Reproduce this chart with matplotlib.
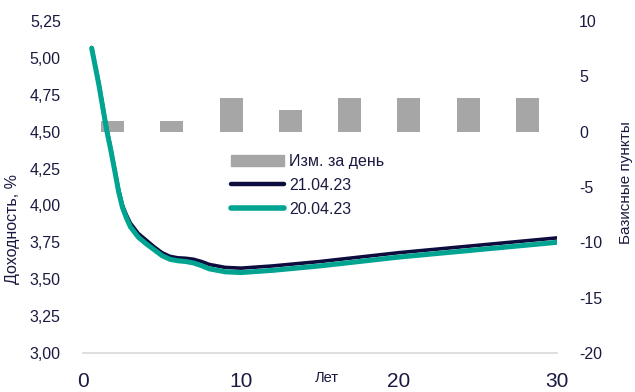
import matplotlib
matplotlib.use('Agg')
import matplotlib.pyplot as plt
from matplotlib.patches import Patch
from matplotlib.lines import Line2D

# ---- data ----
tenors = [0.55, 1.0, 1.5, 1.75, 2.0, 2.25, 2.5, 2.75, 3.0, 3.5, 4.0, 4.5, 5.0, 5.5, 6.0, 6.5, 7.0, 7.5, 8.0, 9.0, 10.0, 12.0, 15.0, 20.0, 25.0, 30.0]
yield_2104 = [5.07, 4.83, 4.52, 4.39, 4.25, 4.11, 4.00, 3.935, 3.88, 3.81, 3.765, 3.72, 3.68, 3.655, 3.645, 3.642, 3.635, 3.62, 3.60, 3.58, 3.575, 3.59, 3.62, 3.68, 3.73, 3.78]
yield_2004 = [5.065, 4.82, 4.51, 4.38, 4.24, 4.095, 3.985, 3.915, 3.855, 3.785, 3.74, 3.70, 3.66, 3.635, 3.625, 3.62, 3.61, 3.592, 3.57, 3.55, 3.545, 3.56, 3.59, 3.65, 3.70, 3.75]
bar_cats = ['1', '2', '3', '5', '7', '10', '15', '20']
bar_change = [1, 1, 3, 2, 3, 3, 3, 3]
left_ticks = [3.00, 3.25, 3.50, 3.75, 4.00, 4.25, 4.50, 4.75, 5.00, 5.25]
right_ticks = [-20, -15, -10, -5, 0, 5, 10]
x_ticks = [0, 10, 20, 30]

NAVY = '#0c0c3e'
TEAL = '#00a490'
GREY = '#a6a6a6'
TXT = '#1a1a40'

plt.rcParams['font.family'] = ['Liberation Sans', 'DejaVu Sans']

fig = plt.figure(figsize=(6.35, 3.92), dpi=100)
pos = [83 / 635, 39 / 392, 474 / 635, 332 / 392]

# bars axis (right scale, categorical x)
axb = fig.add_axes(pos)
axb.bar(bar_cats, bar_change, width=0.39, color=GREY, zorder=2)
axb.set_xlim(-0.5, len(bar_cats) - 0.5)
axb.set_ylim(-20, 10)
axb.yaxis.tick_right()
axb.yaxis.set_label_position('right')
axb.set_yticks(right_ticks)
axb.set_yticklabels([str(v) for v in right_ticks])
axb.tick_params(axis='y', length=0, pad=16, labelsize=11.5, labelcolor=TXT)
axb.set_xticks([])
for s in axb.spines.values():
    s.set_visible(False)
axb.set_ylabel('Базисные пункты', fontsize=11, color=TXT, rotation=90, va='center')
axb.yaxis.set_label_coords(1.145, 0.512)

# lines axis (left scale)
ax = fig.add_axes(pos)
ax.patch.set_visible(False)
l1, = ax.plot(tenors, yield_2104, color=NAVY, lw=2.6, solid_capstyle='round', solid_joinstyle='round', zorder=3)
l2, = ax.plot(tenors, yield_2004, color=TEAL, lw=3.6, solid_capstyle='round', solid_joinstyle='round', zorder=4)
ax.set_xlim(0, 30)
ax.set_ylim(3.0, 5.25)
ax.set_yticks(left_ticks)
ax.set_yticklabels([f"{v:.2f}".replace('.', ',') for v in left_ticks])
ax.set_xticks(x_ticks)
ax.set_xticklabels([str(v) for v in x_ticks])
ax.tick_params(axis='y', length=0, pad=16, labelsize=11.5, labelcolor=TXT)
ax.tick_params(axis='x', length=0, pad=14, labelsize=15, labelcolor=TXT)
for k, s in ax.spines.items():
    s.set_visible(k == 'bottom')
ax.spines['bottom'].set_color('#d9d9d9')
ax.spines['bottom'].set_linewidth(1.2)
ax.set_ylabel('Доходность, %', fontsize=11.5, color=TXT, va='center')
ax.yaxis.set_label_coords(-0.148, 0.373)

fig.text(327 / 635, 1 - 378 / 392, 'Лет', fontsize=10.5, color=TXT, ha='center', va='center')

handles = [Patch(color=GREY),
           Line2D([], [], color=NAVY, lw=3.2, solid_capstyle='round'),
           Line2D([], [], color=TEAL, lw=4.0, solid_capstyle='round')]
labels = ['Изм. за день', '21.04.23', '20.04.23']
leg = fig.legend(handles, labels, loc='upper left', bbox_to_anchor=(231 / 635, 1 - 154 / 392),
                 frameon=False, fontsize=11.5, handlelength=3.3, handletextpad=0.35,
                 labelspacing=0.55, borderpad=0, borderaxespad=0)
for t in leg.get_texts():
    t.set_color(TXT)

fig.savefig('out.png', dpi=100)
